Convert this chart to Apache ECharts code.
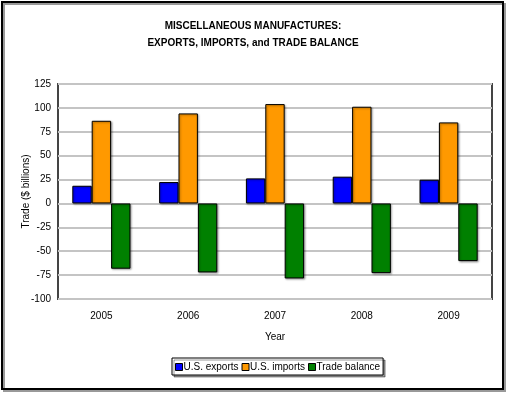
<!DOCTYPE html>
<html>
<head>
<meta charset="utf-8">
<script src="https://cdn.jsdelivr.net/npm/echarts@6/dist/echarts.min.js"></script>
<style>
  html, body { margin: 0; padding: 0; background: #fff; }
  #chart { width: 506px; height: 398px; }
</style>
</head>
<body>
<div id="chart"></div>
<script>
// data
const years = ['2005', '2006', '2007', '2008', '2009'];
const usExports = [18.5, 22.4, 26.2, 28.0, 24.8];
const usImports = [86.5, 94.2, 104.0, 101.2, 84.8];
const tradeBalance = [-68.3, -72.2, -78.5, -72.9, -60.3];
const seriesNames = ['U.S. exports', 'U.S. imports', 'Trade balance'];
const seriesColors = ['#0000ff', '#ff9900', '#008000'];

const font = 'Liberation Sans, Arial, sans-serif';

const chart = echarts.init(document.getElementById('chart'));

function barSeries(i, data) {
  return {
    name: seriesNames[i],
    type: 'bar',
    data: data,
    barGap: '0%',
    barCategoryGap: '33%',
    itemStyle: {
      color: seriesColors[i],
      borderColor: '#000',
      borderWidth: 1,
      shadowColor: 'rgba(0,0,0,0.35)',
      shadowBlur: 2,
      shadowOffsetX: 1,
      shadowOffsetY: 1
    },
    emphasis: { disabled: true }
  };
}

chart.setOption({
  animation: false,
  backgroundColor: '#fff',
  title: {
    text: 'MISCELLANEOUS MANUFACTURES:\nEXPORTS, IMPORTS, and TRADE BALANCE',
    left: 'center',
    top: 18,
    padding: 0,
    textStyle: {
      fontFamily: font,
      fontSize: 10,
      fontWeight: 'bold',
      color: '#000',
      lineHeight: 17
    }
  },
  grid: {
    left: 58,
    right: 14,
    top: 84,
    bottom: 99,
    show: true,
    borderColor: '#444',
    borderWidth: 2,
    backgroundColor: '#fff'
  },
  legend: {
    data: seriesNames,
    left: 172,
    top: 358,
    padding: [4, 3, 3, 3],
    itemWidth: 7,
    itemHeight: 7,
    itemGap: 3,
    icon: 'rect',
    borderColor: '#000',
    borderWidth: 1,
    backgroundColor: '#fff',
    shadowColor: 'rgba(0,0,0,0.4)',
    shadowBlur: 0,
    shadowOffsetX: 2,
    shadowOffsetY: 2,
    itemStyle: { borderColor: '#000', borderWidth: 1 },
    textStyle: { fontFamily: font, fontSize: 10, color: '#000', padding: [0, 0, 0, -4] }
  },
  xAxis: {
    type: 'category',
    data: years,
    name: 'Year',
    nameLocation: 'middle',
    nameGap: 33,
    nameMoveOverlap: false,
    nameTextStyle: { fontFamily: font, fontSize: 10, color: '#000' },
    axisLine: { show: false, onZero: false },
    axisTick: { show: false },
    axisLabel: { fontFamily: font, fontSize: 10, color: '#000', margin: 12 }
  },
  yAxis: {
    type: 'value',
    min: -100,
    max: 125,
    interval: 25,
    name: 'Trade ($ billions)',
    nameLocation: 'middle',
    nameGap: 27,
    nameMoveOverlap: false,
    nameTextStyle: { fontFamily: font, fontSize: 10, color: '#000' },
    axisLine: { show: false },
    axisTick: { show: false },
    axisLabel: { fontFamily: font, fontSize: 10, color: '#000', margin: 7 },
    splitLine: { lineStyle: { color: '#c4c4c4', width: 2 } }
  },
  graphic: [{
    type: 'rect',
    shape: { x: 2, y: 2, width: 501, height: 387 },
    style: {
      fill: 'none',
      stroke: '#000',
      lineWidth: 2,
      shadowColor: 'rgba(0,0,0,0.4)',
      shadowOffsetX: 2,
      shadowOffsetY: 2
    },
    silent: true,
    z: 100
  }],
  series: [
    barSeries(0, usExports),
    barSeries(1, usImports),
    barSeries(2, tradeBalance)
  ]
});
</script>
</body>
</html>
